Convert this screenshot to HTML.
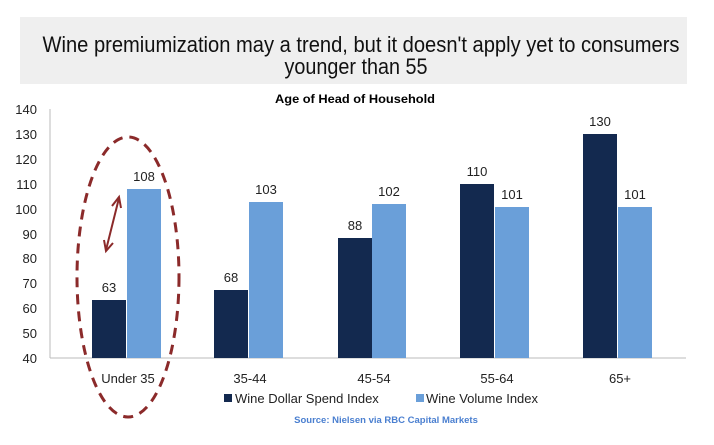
<!DOCTYPE html>
<html><head><style>body{margin:0;background:#fff}svg{display:block}</style></head><body>
<svg width="714" height="445" xmlns="http://www.w3.org/2000/svg" font-family="Liberation Sans, sans-serif">
<rect x="20" y="17" width="667" height="67" fill="#efefef"/>
<text x="361" y="52" font-size="22" text-anchor="middle" textLength="637" lengthAdjust="spacingAndGlyphs" fill="#111">Wine premiumization may a trend, but it doesn't apply yet to consumers</text>
<text x="356" y="74" font-size="22" text-anchor="middle" textLength="143" lengthAdjust="spacingAndGlyphs" fill="#111">younger than 55</text>
<text x="355" y="103" font-size="12" font-weight="bold" text-anchor="middle" textLength="160" lengthAdjust="spacingAndGlyphs">Age of Head of Household</text>
<g font-size="13" fill="#222" text-anchor="end">
<text x="37" y="114">140</text><text x="37" y="139">130</text><text x="37" y="164">120</text><text x="37" y="189">110</text><text x="37" y="214">100</text><text x="37" y="239">90</text><text x="37" y="263">80</text><text x="37" y="288">70</text><text x="37" y="313">60</text><text x="37" y="338">50</text><text x="37" y="363">40</text>
</g>
<line x1="50" y1="109" x2="50" y2="358" stroke="#bbb"/>
<line x1="50" y1="358" x2="686" y2="358" stroke="#bbb"/>
<g fill="#13294f">
<rect x="92" y="300" width="34" height="58"/>
<rect x="214" y="290" width="34" height="68"/>
<rect x="338" y="238" width="34" height="120"/>
<rect x="460" y="184" width="34" height="174"/>
<rect x="583" y="134" width="34" height="224"/>
</g>
<g fill="#6a9fd9">
<rect x="127" y="189" width="34" height="169"/>
<rect x="249" y="202" width="34" height="156"/>
<rect x="372" y="204" width="34" height="154"/>
<rect x="495" y="207" width="34" height="151"/>
<rect x="618" y="207" width="34" height="151"/>
</g>
<g font-size="13" fill="#222" text-anchor="middle">
<text x="109" y="292">63</text><text x="144" y="181">108</text>
<text x="231" y="282">68</text><text x="266" y="194">103</text>
<text x="355" y="230">88</text><text x="389" y="196">102</text>
<text x="477" y="176">110</text><text x="512" y="199">101</text>
<text x="600" y="126">130</text><text x="635" y="199">101</text>
<text x="128" y="383">Under 35</text><text x="250" y="383">35-44</text><text x="374" y="383">45-54</text><text x="497" y="383">55-64</text><text x="620" y="383">65+</text>
</g>
<rect x="224" y="394" width="8" height="8" fill="#13294f"/>
<text x="235" y="403" font-size="13" fill="#222">Wine Dollar Spend Index</text>
<rect x="416" y="394" width="8" height="8" fill="#6a9fd9"/>
<text x="426" y="403" font-size="13" fill="#222">Wine Volume Index</text>
<text x="386" y="423" font-size="9.5" font-weight="bold" fill="#4a7fd0" text-anchor="middle">Source: Nielsen via RBC Capital Markets</text>
<ellipse cx="128" cy="277" rx="51" ry="140" fill="none" stroke="#8b2a2a" stroke-width="3" stroke-dasharray="10,7"/>
<g stroke="#8b2a2a" stroke-width="2" fill="none">
<line x1="106" y1="250" x2="119" y2="198"/>
<polyline points="112,206 119,197 121,208"/>
<polyline points="104,240 106,251 113,243"/>
</g>
</svg>
</body></html>
